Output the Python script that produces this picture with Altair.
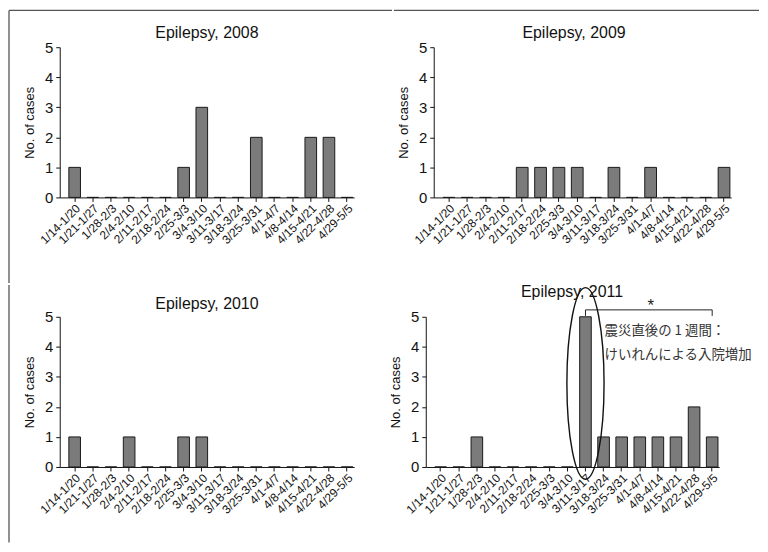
import altair as alt
import pandas as pd

weeks = ["1/14-1/20", "1/21-1/27", "1/28-2/3", "2/4-2/10", "2/11-2/17", "2/18-2/24",
         "2/25-3/3", "3/4-3/10", "3/11-3/17", "3/18-3/24", "3/25-3/31", "4/1-4/7",
         "4/8-4/14", "4/15-4/21", "4/22-4/28", "4/29-5/5"]
cases_2008 = [1, 0, 0, 0, 0, 0, 1, 3, 0, 0, 2, 0, 0, 2, 2, 0]
cases_2009 = [0, 0, 0, 0, 1, 1, 1, 1, 0, 1, 0, 1, 0, 0, 0, 1]
cases_2010 = [1, 0, 0, 1, 0, 0, 1, 1, 0, 0, 0, 0, 0, 0, 0, 0]
cases_2011 = [0, 0, 1, 0, 0, 0, 0, 0, 5, 1, 1, 1, 1, 1, 2, 1]

titles = ["Epilepsy, 2008", "Epilepsy, 2009", "Epilepsy, 2010", "Epilepsy, 2011"]

# annotation (2011 panel)
note_lines = ["震災直後の 1 週間：", "けいれんによる入院増加"]
note_y = [4.54, 3.72]
bracket_from, bracket_to, bracket_y, bracket_tick_y = "3/11-3/17", "4/29-5/5", 5.23, 5.03
star_week, star_y = "4/1-4/7", 5.23
ellipse_week, ellipse_y = "3/11-3/17", 2.78

LATIN = "Liberation Sans"
CJK = "Noto Sans CJK JP"
FRAME = "#555555"

ELLIPSE = ("M0,-1 C0.107,-1 0.194,-0.552 0.194,0 C0.194,0.552 0.107,1 0,1 "
           "C-0.107,1 -0.194,0.552 -0.194,0 C-0.194,-0.552 -0.107,-1 0,-1 Z")


def frame_rule(**enc):
    return alt.Chart(pd.DataFrame({"k": [0]})).mark_rule(
        color=FRAME, strokeWidth=1.3).encode(**{k: alt.value(v) for k, v in enc.items()})


def panel(vals, title, w, h, title_x, title_y, annotate=False, frames=()):
    df = pd.DataFrame({"week": weeks, "cases": vals})
    xs = alt.Scale(domain=weeks, paddingInner=0.36, paddingOuter=0.285, align=0.88)
    ys = alt.Scale(domain=[0, 5])
    x_axis = alt.Axis(title=None, labelAngle=-45, labelFontSize=12, labelFont=LATIN,
                      labelColor="#111", tickSize=4, labelPadding=1,
                      domainColor="#111", tickColor="#111")
    y_axis = alt.Axis(title="No. of cases", values=[0, 1, 2, 3, 4, 5], format="d",
                      grid=False, labelFontSize=15, labelFont=LATIN, labelColor="#111",
                      labelOverlap=False,
                      titleFont=LATIN, titleFontSize=13, titleFontWeight="normal",
                      titleColor="#111", titlePadding=8, tickSize=4, labelPadding=3,
                      domainColor="#111", tickColor="#111")

    def X(field):
        return alt.X(field, sort=weeks, scale=xs, axis=x_axis)

    def Y(field):
        return alt.Y(field, scale=ys, axis=y_axis)

    bars = alt.Chart(df).mark_bar(color="#7b7b7b", stroke="#1a1a1a", strokeWidth=1).encode(
        x=X("week:N"), y=Y("cases:Q"))
    ttl = alt.Chart(pd.DataFrame({"t": [title]})).mark_text(
        font=LATIN, fontSize=16, color="#111", baseline="middle", align="center").encode(
        text="t:N", x=alt.value(title_x), y=alt.value(title_y))
    layers = [bars, ttl]
    if annotate:
        tx = pd.DataFrame({"week": [weeks[9]] * 2, "y": note_y, "t": note_lines})
        layers.append(alt.Chart(tx).mark_text(align="left", baseline="middle", dx=1,
                                              font=CJK, fontSize=13.5, color="#333")
                      .encode(x=X("week:N"), y=Y("y:Q"), text="t:N"))
        br = pd.DataFrame({"a": [bracket_from], "b": [bracket_to], "y": [bracket_y]})
        layers.append(alt.Chart(br).mark_rule(color="#222", strokeWidth=1)
                      .encode(x=X("a:N"), x2="b:N", y=Y("y:Q")))
        bt = pd.DataFrame({"w": [bracket_from, bracket_to], "y": [bracket_y] * 2,
                           "y2": [bracket_tick_y] * 2})
        layers.append(alt.Chart(bt).mark_rule(color="#222", strokeWidth=1)
                      .encode(x=X("w:N"), y=Y("y:Q"), y2="y2:Q"))
        st = pd.DataFrame({"w": [star_week], "y": [star_y], "t": ["*"]})
        layers.append(alt.Chart(st).mark_text(fontSize=17, font=LATIN, dx=11, dy=1,
                                              baseline="alphabetic", color="#222")
                      .encode(x=X("w:N"), y=Y("y:Q"), text="t:N"))
        el = pd.DataFrame({"w": [ellipse_week], "y": [ellipse_y]})
        layers.append(alt.Chart(el).mark_point(shape=ELLIPSE, size=37100, filled=False,
                                               stroke="#111", strokeWidth=1.4, opacity=1)
                      .encode(x=X("w:N"), y=Y("y:Q")))
    for f in frames:
        layers.append(frame_rule(**f))
    return alt.layer(*layers).properties(width=w, height=h)


# decorative scan frame (left and top edges of the figure border)
p1 = panel(cases_2008, titles[0], 296, 151, 148, -14, frames=[
    dict(x=-51, x2=334, y=-37), dict(x=-51, y=-37, y2=237)])
p2 = panel(cases_2009, titles[1], 299, 151, 141, -14, frames=[dict(x=-40, x2=327, y=-37)])
p3 = panel(cases_2010, titles[2], 296, 151, 148, -13, frames=[dict(x=-51, y=-32, y2=227)])
p4 = panel(cases_2011, titles[3], 295, 151, 147, -25, annotate=True)

row1 = alt.hconcat(p1, p2, spacing=0)
row2 = alt.hconcat(p3, p4, spacing=34)
chart = alt.vconcat(row1, row2, spacing=0).properties(
    padding={"left": 0, "top": 0, "right": 0, "bottom": 0}
).configure_view(stroke=None)

chart.save("out.html", embed_options={"renderer": "svg", "actions": False})
